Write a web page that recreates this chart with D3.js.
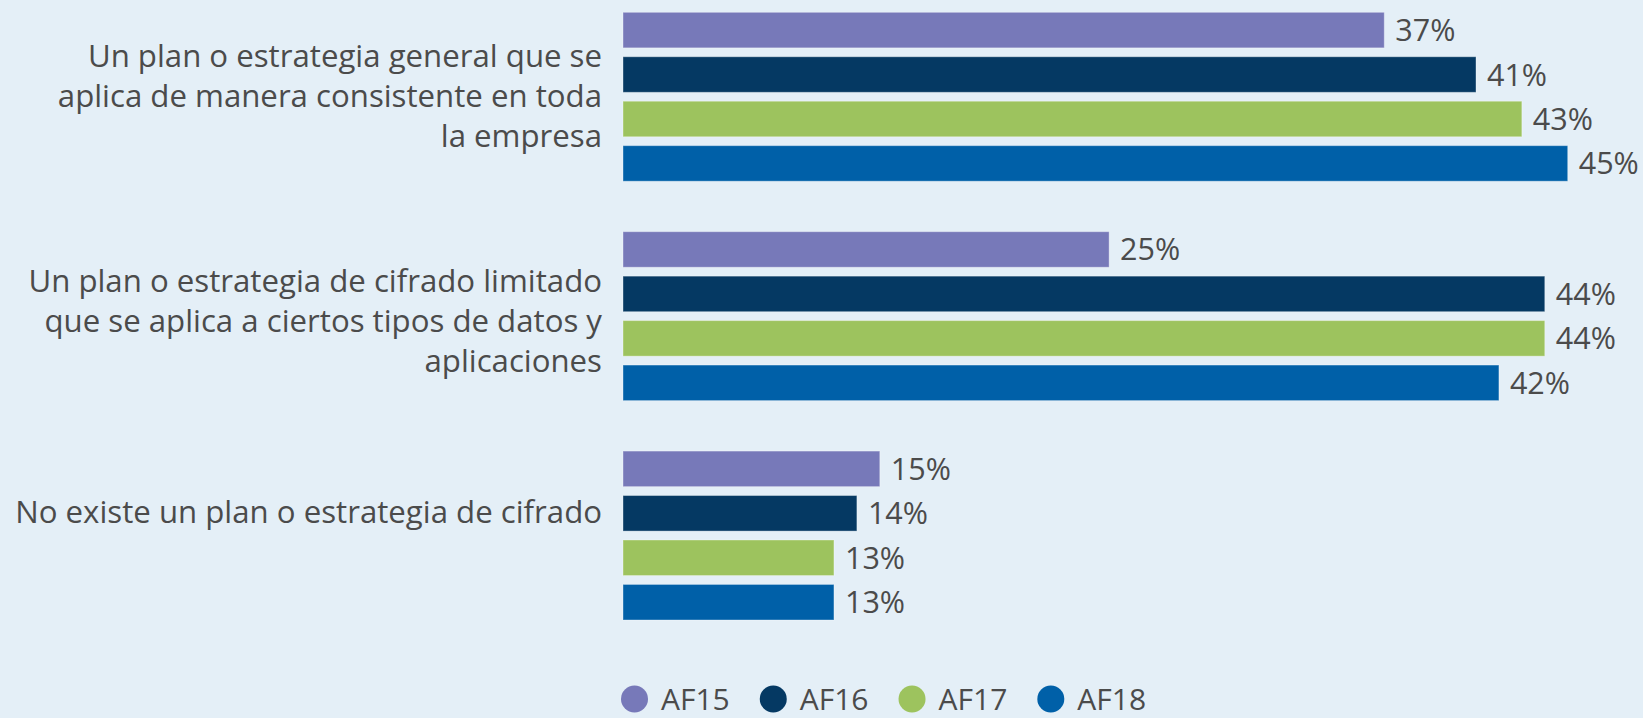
<!DOCTYPE html>
<html>
<head>
<meta charset="utf-8">
<script src="https://cdn.jsdelivr.net/npm/d3@7"></script>
<style>
  html, body { margin: 0; padding: 0; background: #e4eff7; }
  svg { display: block; }
  text { font-family: "Open Sans", "Noto Sans", sans-serif; fill: #4b4b4b; }
</style>
</head>
<body>
<svg id="chart" width="1643" height="718"></svg>
<script>
// ---- data ----
const categories = [
  "Un plan o estrategia general que se\naplica de manera consistente en toda\nla empresa",
  "Un plan o estrategia de cifrado limitado\nque se aplica a ciertos tipos de datos y\naplicaciones",
  "No existe un plan o estrategia de cifrado"
];
const seriesNames = ["AF15", "AF16", "AF17", "AF18"];
const af15 = [37, 25, 15];
const af16 = [41, 44, 14];
const af17 = [43, 44, 13];
const af18 = [45, 42, 13];
const seriesValues = [af15, af16, af17, af18];
const seriesColors = ["#7779b9", "#053963", "#9dc35e", "#0060a8"];

// ---- layout ----
const W = 1643, H = 718;
const barLeft = 623;
const baseValue = 3.8;
const labelNudge = [-1, 5, -24];
const lineHeight = 40;
const catFont = 31.2;
const valFont = 30.5;

const svg = d3.select("#chart");
svg.append("rect").attr("width", W).attr("height", H).attr("fill", "#e4eff7");

const x = d3.scaleLinear().domain([baseValue, 45]).range([barLeft, barLeft + 22.93 * (45 - baseValue)]);
const y0 = d3.scaleBand().domain(d3.range(categories.length)).range([12.3, 620]).paddingInner(0.23).paddingOuter(0);
const y1 = d3.scaleBand().domain(d3.range(seriesNames.length)).range([0, y0.bandwidth()]).paddingInner(0.2).paddingOuter(0);
const color = d3.scaleOrdinal().domain(seriesNames).range(seriesColors);

const rows = [];
categories.forEach((c, ci) => {
  seriesNames.forEach((s, si) => {
    rows.push({ ci, si, series: s, value: seriesValues[si][ci] });
  });
});

const groups = svg.selectAll("g.grp").data(categories).join("g")
  .attr("class", "grp")
  .attr("transform", (d, i) => `translate(0,${y0(i)})`);

groups.selectAll("rect.bar")
  .data((d, ci) => rows.filter(r => r.ci === ci))
  .join("rect")
  .attr("class", "bar")
  .attr("x", x(baseValue))
  .attr("y", d => y1(d.si))
  .attr("width", d => x(d.value) - x(baseValue))
  .attr("height", y1.bandwidth())
  .attr("fill", d => color(d.series))
  .attr("stroke", "rgba(255,255,255,0.35)")
  .attr("stroke-width", 1);

groups.selectAll("text.val")
  .data((d, ci) => rows.filter(r => r.ci === ci))
  .join("text")
  .attr("class", "val")
  .attr("x", d => x(d.value) + 11)
  .attr("y", d => y1(d.si) + y1.bandwidth() / 2)
  .attr("dy", "0.36em")
  .style("font-size", valFont + "px")
  .text(d => d3.format(".0f")(d.value) + "%");

// category labels
categories.forEach((c, ci) => {
  const lines = c.split("\n");
  const cy = y0(ci) + y0.bandwidth() / 2 + labelNudge[ci];
  const t = svg.append("text")
    .attr("text-anchor", "end")
    .style("font-size", catFont + "px");
  lines.forEach((ln, li) => {
    t.append("tspan")
      .attr("x", 602)
      .attr("y", cy + (li - (lines.length - 1) / 2) * lineHeight)
      .attr("dy", "0.36em")
      .text(ln);
  });
});

// legend
const legend = svg.append("g").attr("transform", "translate(621,699)");
let lx = 0;
const r = 13.5;
seriesNames.forEach((s, i) => {
  const g = legend.append("g").attr("transform", `translate(${lx},0)`);
  g.append("circle").attr("cx", r).attr("cy", 0).attr("r", r).attr("fill", color(s));
  const t = g.append("text")
    .attr("x", 2 * r + 13)
    .attr("y", 0)
    .attr("dy", "0.36em")
    .style("font-size", "30px")
    .text(s);
  const tw = t.node().getComputedTextLength();
  lx += 2 * r + 13 + tw + 30;
});
</script>
</body>
</html>
